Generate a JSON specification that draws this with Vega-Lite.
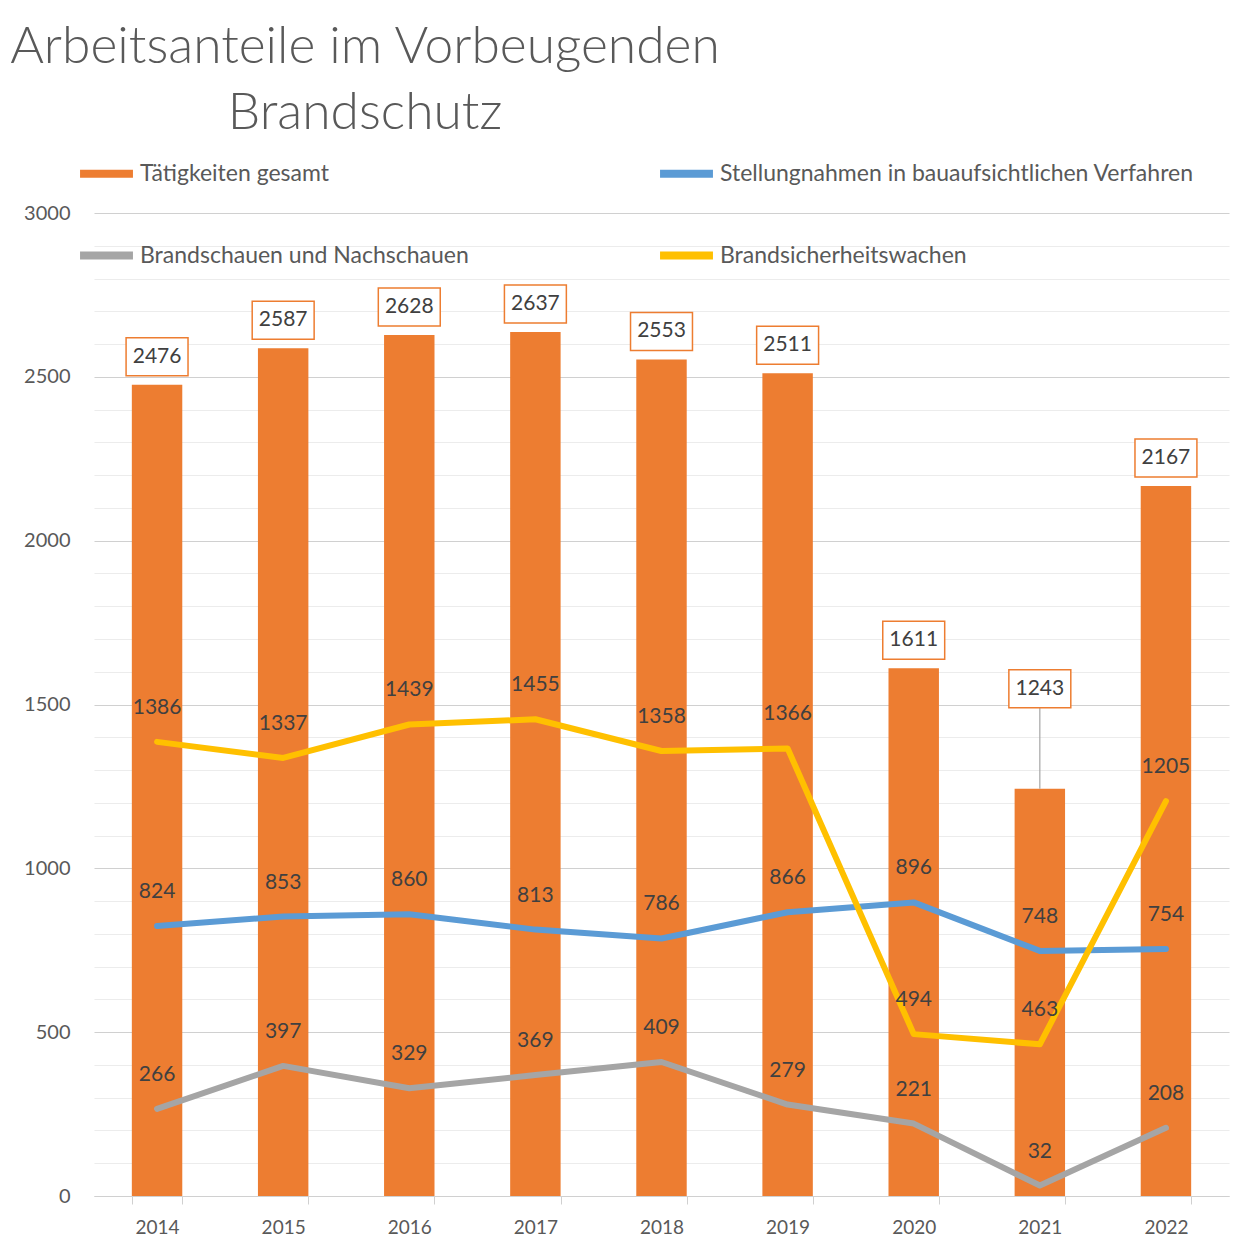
{
  "$schema": "https://vega.github.io/schema/vega-lite/v6.json",
  "autosize": {"type": "none"},
  "padding": {"left": 94, "top": 213, "right": 12, "bottom": 61},
  "width": 1135,
  "height": 983,
  "background": "white",
  "config": {
    "view": {"stroke": null},
    "font": "Lato",
    "text": {"font": "Lato"}
  },
  "title": {
    "text": ["Arbeitsanteile im Vorbeugenden", "Brandschutz"],
    "anchor": "start",
    "frame": "group",
    "align": "center",
    "dx": 271,
    "font": "Lato",
    "fontWeight": 300,
    "fontSize": 51.5,
    "lineHeight": 66,
    "color": "#595959",
    "offset": 4
  },
  "data": {
    "values": [
      {"year": "2014", "series": "Tätigkeiten gesamt", "value": 2476},
      {"year": "2015", "series": "Tätigkeiten gesamt", "value": 2587},
      {"year": "2016", "series": "Tätigkeiten gesamt", "value": 2628},
      {"year": "2017", "series": "Tätigkeiten gesamt", "value": 2637},
      {"year": "2018", "series": "Tätigkeiten gesamt", "value": 2553},
      {"year": "2019", "series": "Tätigkeiten gesamt", "value": 2511},
      {"year": "2020", "series": "Tätigkeiten gesamt", "value": 1611},
      {"year": "2021", "series": "Tätigkeiten gesamt", "value": 1243},
      {"year": "2022", "series": "Tätigkeiten gesamt", "value": 2167},
      {"year": "2014", "series": "Stellungnahmen in bauaufsichtlichen Verfahren", "value": 824},
      {"year": "2015", "series": "Stellungnahmen in bauaufsichtlichen Verfahren", "value": 853},
      {"year": "2016", "series": "Stellungnahmen in bauaufsichtlichen Verfahren", "value": 860},
      {"year": "2017", "series": "Stellungnahmen in bauaufsichtlichen Verfahren", "value": 813},
      {"year": "2018", "series": "Stellungnahmen in bauaufsichtlichen Verfahren", "value": 786},
      {"year": "2019", "series": "Stellungnahmen in bauaufsichtlichen Verfahren", "value": 866},
      {"year": "2020", "series": "Stellungnahmen in bauaufsichtlichen Verfahren", "value": 896},
      {"year": "2021", "series": "Stellungnahmen in bauaufsichtlichen Verfahren", "value": 748},
      {"year": "2022", "series": "Stellungnahmen in bauaufsichtlichen Verfahren", "value": 754},
      {"year": "2014", "series": "Brandschauen und Nachschauen", "value": 266},
      {"year": "2015", "series": "Brandschauen und Nachschauen", "value": 397},
      {"year": "2016", "series": "Brandschauen und Nachschauen", "value": 329},
      {"year": "2017", "series": "Brandschauen und Nachschauen", "value": 369},
      {"year": "2018", "series": "Brandschauen und Nachschauen", "value": 409},
      {"year": "2019", "series": "Brandschauen und Nachschauen", "value": 279},
      {"year": "2020", "series": "Brandschauen und Nachschauen", "value": 221},
      {"year": "2021", "series": "Brandschauen und Nachschauen", "value": 32},
      {"year": "2022", "series": "Brandschauen und Nachschauen", "value": 208},
      {"year": "2014", "series": "Brandsicherheitswachen", "value": 1386},
      {"year": "2015", "series": "Brandsicherheitswachen", "value": 1337},
      {"year": "2016", "series": "Brandsicherheitswachen", "value": 1439},
      {"year": "2017", "series": "Brandsicherheitswachen", "value": 1455},
      {"year": "2018", "series": "Brandsicherheitswachen", "value": 1358},
      {"year": "2019", "series": "Brandsicherheitswachen", "value": 1366},
      {"year": "2020", "series": "Brandsicherheitswachen", "value": 494},
      {"year": "2021", "series": "Brandsicherheitswachen", "value": 463},
      {"year": "2022", "series": "Brandsicherheitswachen", "value": 1205}
    ]
  },
  "encoding": {
    "x": {
      "field": "year",
      "type": "ordinal",
      "scale": {"paddingInner": 0.6, "paddingOuter": 0.3},
      "axis": {
        "title": null,
        "labelAngle": 0,
        "tickBand": "extent",
        "domainColor": "#d0d0d0",
        "tickColor": "#d0d0d0",
        "tickSize": 8,
        "labelFont": "Lato",
        "labelFontSize": 19,
        "labelColor": "#595959",
        "labelPadding": 14,
        "grid": false
      }
    },
    "y": {
      "field": "value",
      "type": "quantitative",
      "scale": {"domain": [0, 3000], "nice": false},
      "axis": {
        "title": null,
        "values": [0,100,200,300,400,500,600,700,800,900,1000,1100,1200,1300,1400,1500,1600,1700,1800,1900,2000,2100,2200,2300,2400,2500,2600,2700,2800,2900,3000],
        "format": "d",
        "labelExpr": "datum.value % 500 === 0 ? datum.label : ''",
        "gridColor": {"condition": {"test": "datum.value % 500 === 0", "value": "#d0d0d0"}, "value": "#ececec"},
        "gridWidth": 1.2,
        "domain": false,
        "ticks": false,
        "labelPadding": 24,
        "labelFont": "Lato",
        "labelFontSize": 20,
        "labelColor": "#595959"
      }
    }
  },
  "layer": [
    {
      "transform": [{"filter": "datum.series === 'Tätigkeiten gesamt'"}],
      "mark": {"type": "bar", "color": "#ED7D31"},
      "encoding": {
        "color": {
          "field": "series",
          "type": "nominal",
          "scale": {
            "domain": ["Tätigkeiten gesamt", "Brandschauen und Nachschauen", "Stellungnahmen in bauaufsichtlichen Verfahren", "Brandsicherheitswachen"],
            "range": ["#ED7D31", "#A5A5A5", "#5B9BD5", "#FFC000"]
          },
          "legend": {
            "orient": "none",
            "legendX": -18,
            "legendY": -70,
            "columns": 2,
            "columnPadding": 175,
            "rowPadding": 35,
            "title": null,
            "symbolType": "stroke",
            "symbolSize": 2800,
            "symbolStrokeWidth": 8,
            "labelFont": "Lato",
            "labelFontSize": 23,
            "labelColor": "#595959",
            "labelOffset": 3,
            "labelLimit": 700
          }
        }
      }
    },
    {
      "transform": [{"filter": "datum.series === 'Tätigkeiten gesamt' && datum.year === '2021'"}],
      "mark": {"type": "rule", "color": "#a6a6a6", "strokeWidth": 1.2, "y2Offset": -81},
      "encoding": {"y2": {"field": "value"}}
    },
    {
      "transform": [{"filter": "datum.series !== 'Tätigkeiten gesamt'"}],
      "mark": {"type": "line", "strokeWidth": 6, "strokeCap": "round", "strokeJoin": "round"},
      "encoding": {"color": {"field": "series", "type": "nominal"}}
    },
    {
      "transform": [{"filter": "datum.series === 'Tätigkeiten gesamt' && datum.year !== '2021'"}],
      "mark": {"type": "point", "shape": "M-1.63,-1H1.63V1H-1.63Z", "size": 1444, "filled": true, "fill": "white", "stroke": "#ED7D31", "strokeWidth": 1.5, "opacity": 1, "yOffset": -28}
    },
    {
      "transform": [{"filter": "datum.series === 'Tätigkeiten gesamt' && datum.year === '2021'"}],
      "mark": {"type": "point", "shape": "M-1.63,-1H1.63V1H-1.63Z", "size": 1444, "filled": true, "fill": "white", "stroke": "#ED7D31", "strokeWidth": 1.5, "opacity": 1, "yOffset": -100}
    },
    {
      "transform": [{"filter": "datum.series === 'Tätigkeiten gesamt' && datum.year !== '2021'"}],
      "mark": {"type": "text", "fontSize": 21, "color": "#404040", "baseline": "middle", "yOffset": -28, "font": "Lato"},
      "encoding": {"text": {"field": "value", "type": "quantitative", "format": "d"}}
    },
    {
      "transform": [{"filter": "datum.series === 'Tätigkeiten gesamt' && datum.year === '2021'"}],
      "mark": {"type": "text", "fontSize": 21, "color": "#404040", "baseline": "middle", "yOffset": -100, "font": "Lato"},
      "encoding": {"text": {"field": "value", "type": "quantitative", "format": "d"}}
    },
    {
      "transform": [{"filter": "datum.series !== 'Tätigkeiten gesamt'"}],
      "mark": {"type": "text", "fontSize": 21, "color": "#404040", "baseline": "middle", "dy": -34, "font": "Lato"},
      "encoding": {"text": {"field": "value", "type": "quantitative", "format": "d"}}
    }
  ]
}
